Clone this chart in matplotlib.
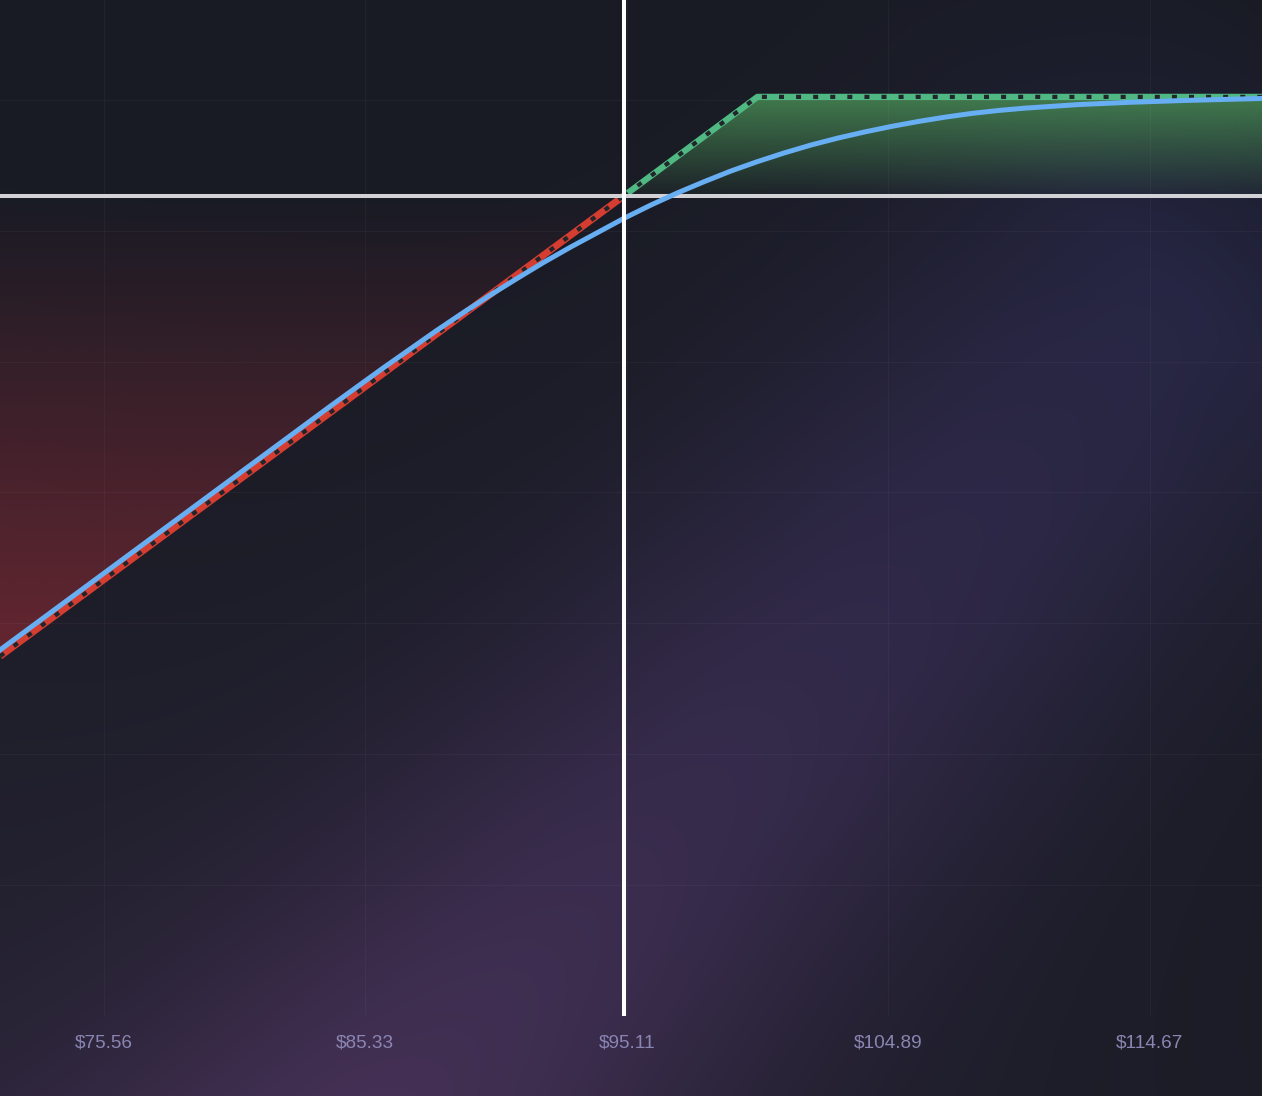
import numpy as np
import matplotlib
matplotlib.use("Agg")
import matplotlib.pyplot as plt
from matplotlib.patches import Polygon

# expiry payoff, P&L per share
loss_prices = [71.67, 95.0]
loss_pnl = [-23.33, 0.0]
gain_prices = [95.0, 100.0, 118.87]
gain_pnl = [0.0, 5.02, 5.02]

# current (today) P&L curve
curve_prices = [71.67, 74, 76, 78, 80, 82, 84, 86, 88, 89, 90, 91, 92, 93, 94, 95,
                96, 97, 98, 99, 100, 101, 102, 103, 104, 105, 106, 107, 108, 109,
                110, 112, 114, 116, 118, 118.87]
curve_pnl = [-23.01, -20.68, -18.68, -16.68, -14.68, -12.68, -10.68, -8.72, -6.82,
             -5.91, -5.03, -4.19, -3.37, -2.60, -1.87, -1.14, -0.47, 0.15, 0.72,
             1.26, 1.74, 2.18, 2.58, 2.93, 3.24, 3.52, 3.77, 3.99, 4.18, 4.33,
             4.45, 4.63, 4.75, 4.84, 4.91, 4.94]

spot_price = 95.0
tick_prices = [75.56, 85.33, 95.11, 104.89, 114.67]

X_RANGE = (71.67, 118.87)
Y_RANGE = (-41.56, 9.93)

BASE = np.array([25, 27, 36]) / 255
RED = "#d63d31"
GREEN = "#4fb883"
BLUE = "#68aef2"
DOTS = "#22262b"
LABEL = "#8a85b2"

W, H = 1262, 1096


def background():
    yy, xx = np.mgrid[0:H, 0:W].astype(float)
    d = np.array([640.0, -660.0])
    d /= np.linalg.norm(d)
    n = np.array([-d[1], d[0]])
    rx, ry = xx - 600, yy - 900
    perp = rx * n[0] + ry * n[1]
    along = rx * d[0] + ry * d[1]
    t_raw = (along + 300) / 1300
    t = np.clip(t_raw, 0, 1)[..., None]
    glow = np.exp(-(perp / 250) ** 2) * np.clip((1.08 - t_raw) / 0.2, 0, 1)
    purple = np.array([34, 16, 38]) / 255
    blue = np.array([10, 10, 30]) / 255
    band = (purple * (1 - t) + blue * t) * glow[..., None]
    wash = ((yy / H) ** 1.5 * (1 - 0.8 * xx / W))[..., None] * np.array([12, 7, 14]) / 255
    return np.clip(BASE + band + wash, 0, 1)


def gradient_fill(ax, xs, ys, color, a_base, a_far, zorder):
    """Fill between the line and zero, alpha from a_base at 0 to a_far at the extreme."""
    far = min(ys) if min(ys) < 0 else max(ys)
    verts = list(zip(xs, ys)) + [(xs[-1], 0), (xs[0], 0)]
    patch = Polygon(verts, closed=True, facecolor="none", edgecolor="none")
    ax.add_patch(patch)
    rgba = np.zeros((256, 1, 4))
    rgba[..., :3] = matplotlib.colors.to_rgb(color)
    alphas = np.linspace(a_base, a_far, 256)
    lo, hi = sorted([0, far])
    if far < 0:
        alphas = alphas[::-1]
    rgba[:, 0, 3] = alphas
    im = ax.imshow(rgba, extent=[xs[0], xs[-1], lo, hi], origin="lower",
                   aspect="auto", zorder=zorder, interpolation="bilinear")
    im.set_clip_path(patch)


plt.rcParams["font.family"] = ["Liberation Sans", "DejaVu Sans"]

fig = plt.figure(figsize=(W / 100, H / 100), dpi=100)
fig.patch.set_facecolor(BASE)

bg = fig.add_axes([0, 0, 1, 1], zorder=0)
bg.imshow(background(), aspect="auto", extent=[0, 1, 0, 1], origin="upper")
bg.axis("off")

ax = fig.add_axes([0, 80 / H, 1, 1016 / H], zorder=1)
ax.set_facecolor("none")

gradient_fill(ax, loss_prices, loss_pnl, "#c8323a", 0.0, 0.42, 1)
gradient_fill(ax, gain_prices, gain_pnl, "#4c9658", 0.05, 0.78, 1)

ax.plot(loss_prices, loss_pnl, color=RED, lw=5, solid_capstyle="butt", zorder=3)
ax.plot(gain_prices, gain_pnl, color=GREEN, lw=4.5, solid_capstyle="butt", zorder=3)
ax.plot(loss_prices, loss_pnl, color=DOTS, lw=3, dashes=(1.2, 2.9), zorder=4)
ax.plot(gain_prices, gain_pnl, color=DOTS, lw=3, dashes=(1.2, 2.9), zorder=4)

ax.axhline(0, color="#d2d2d6", lw=2.9, zorder=5)
ax.plot(curve_prices, curve_pnl, color=BLUE, lw=3.6, zorder=6,
        solid_joinstyle="round")
ax.axvline(spot_price, color="white", lw=2.9, zorder=7)

ax.set_xlim(*X_RANGE)
ax.set_ylim(*Y_RANGE)
ax.set_xticks(tick_prices)
ax.set_xticklabels([f"${p:.2f}" for p in tick_prices])
ax.set_yticks(np.linspace(Y_RANGE[0], 4.87, 8))
ax.set_yticklabels([])
ax.tick_params(length=0, pad=13, labelsize=13.7, labelcolor=LABEL)
ax.grid(color="white", alpha=0.035, lw=0.8, zorder=0)
for s in ax.spines.values():
    s.set_visible(False)

fig.savefig("out.png", dpi=100, facecolor=fig.get_facecolor())
